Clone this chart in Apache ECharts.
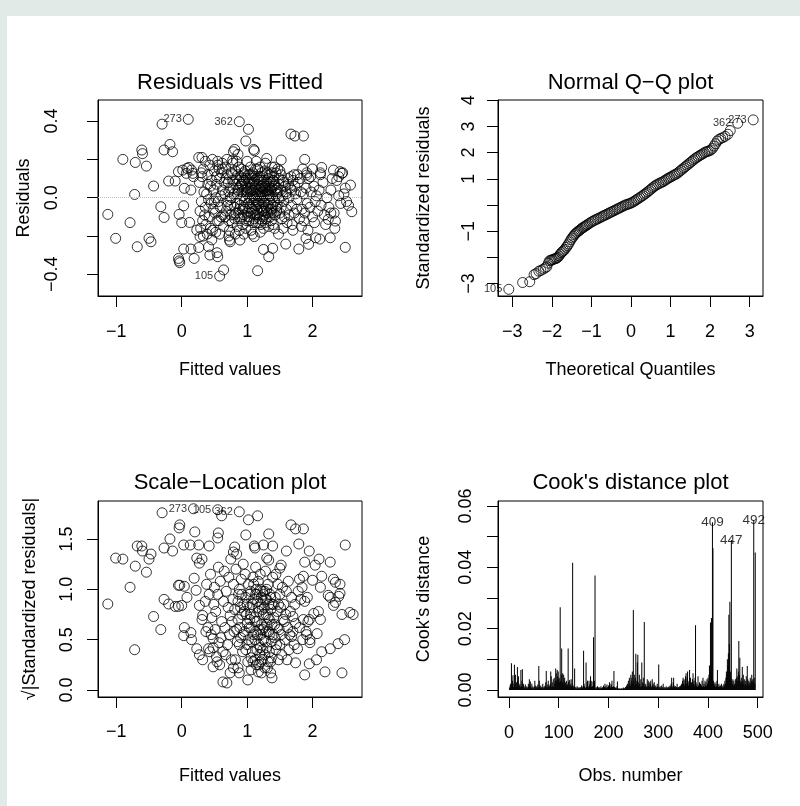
<!DOCTYPE html>
<html><head><meta charset="utf-8">
<script src="https://cdn.jsdelivr.net/npm/echarts@6/dist/echarts.min.js"></script>
<style>
html,body{margin:0;padding:0;width:800px;height:806px;background:#e1eae6;overflow:hidden}
#bg{position:absolute;left:7px;top:16px;right:0;bottom:0;background:#fff}
#chart{position:absolute;left:0;top:0;width:800px;height:806px}
</style></head><body><div id="bg"></div><div id="chart"></div>
<script>
// ---------- Panel 1: Residuals vs Fitted  [fitted, residual] ----------
const rvfSparse = [[-1.13,-0.087],[-1.01,-0.212],[-0.90,0.20],[-0.79,-0.13],[-0.72,0.017],[-0.71,0.184],[-0.68,-0.256],[-0.61,0.249],[-0.60,0.23],[-0.54,0.165],[-0.50,-0.212],[-0.47,-0.23],[-0.43,0.061],[-0.32,-0.047],[-0.30,0.384],[-0.27,-0.103],[-0.27,0.249],[-0.20,0.087],[-0.18,0.278],[-0.14,0.24],[-0.10,0.087],[-0.05,0.136],[-0.04,-0.087],[0.0,-0.13],[0.03,-0.042],[0.04,0.049],[0.015,0.144],[0.07,0.127],[0.08,0.153],[0.11,0.158],[0.14,0.04],[0.15,0.144],[0.17,0.127],[0.18,0.11],[0.12,-0.129],[0.03,-0.268],[-0.05,-0.317],[-0.04,-0.33],[-0.03,-0.339],[0.14,-0.268],[0.19,-0.317],[0.26,-0.26],[1.02,0.357],[0.98,0.296],[1.10,0.252],[1.11,0.245],[0.79,0.24],[0.81,0.252],[0.86,0.226],[0.78,0.197],[1.67,0.332],[1.73,0.322],[1.86,0.322],[1.88,0.20],[1.30,0.205],[1.52,0.197],[0.26,0.21],[0.31,0.21],[0.36,0.19],[0.55,0.19],[0.62,0.18],[0.64,-0.377],[1.16,-0.381],[1.25,-0.27],[1.33,-0.308],[1.39,-0.264],[1.59,-0.242],[1.79,-0.268],[1.94,-0.243],[2.05,-0.209],[2.11,-0.216],[2.27,-0.209],[2.50,-0.259],[2.60,-0.073],[2.58,0.066],[2.45,0.127],[2.42,0.136],[2.32,0.144],[2.40,0.11],[2.14,0.158],[2.12,0.13],[2.35,-0.122],[2.24,-0.113],[2.34,-0.16],[0.43,-0.299],[0.54,-0.287],[0.55,-0.308],[0.41,-0.256],[0.28,-0.203],[0.23,-0.169],[0.73,-0.221],[0.74,-0.23],[0.89,-0.221],[1.11,-0.203],[1.48,-0.19],[1.90,-0.212],[2.52,-0.02],[2.55,-0.04],[2.50,0.05],[1.91,0.118]];
const rvfCloud = [[0.27,0.08],[0.30,-0.02],[0.32,-0.12],[0.34,0.03],[0.28,-0.07],[0.33,0.15],[0.31,0.11],[0.29,-0.16],
[0.36,-0.05],[0.38,0.02],[0.40,0.12],[0.42,-0.10],[0.44,0.06],[0.37,-0.14],[0.41,-0.01],[0.43,0.17],[0.39,-0.19],[0.45,-0.03],
[0.46,0.09],[0.48,-0.06],[0.50,0.14],[0.52,0.00],[0.54,-0.12],[0.47,-0.17],[0.49,0.04],[0.53,0.07],[0.51,-0.08],[0.55,0.17],[0.46,-0.22],
[0.56,-0.02],[0.58,0.10],[0.60,-0.10],[0.62,0.04],[0.64,-0.15],[0.57,0.15],[0.59,-0.05],[0.61,0.13],[0.63,-0.09],[0.65,0.08],[0.60,0.01],[0.58,-0.19],
[0.66,0.02],[0.68,-0.07],[0.70,0.12],[0.72,-0.12],[0.74,0.05],[0.67,0.16],[0.69,-0.02],[0.71,0.08],[0.73,-0.17],[0.75,-0.04],[0.68,0.10],[0.72,-0.20],
[0.76,0.00],[0.78,0.09],[0.80,-0.09],[0.82,0.14],[0.84,-0.03],[0.77,-0.13],[0.79,0.05],[0.81,-0.05],[0.83,0.07],[0.85,-0.15],[0.78,0.18],[0.82,-0.19],[0.80,0.02],
[0.86,0.04],[0.88,-0.06],[0.90,0.11],[0.92,-0.10],[0.94,0.01],[0.87,0.16],[0.89,-0.01],[0.91,0.07],[0.93,-0.14],[0.95,0.13],[0.88,-0.17],[0.92,0.03],[0.90,-0.04],[0.94,0.09],
[0.96,-0.02],[0.98,0.06],[1.00,-0.08],[1.02,0.10],[1.04,0.00],[0.97,0.14],[0.99,-0.12],[1.01,0.03],[1.03,-0.05],[1.05,0.16],[0.98,-0.16],[1.02,0.12],[1.00,0.02],[1.04,-0.10],[0.96,0.09],
[1.06,0.05],[1.08,-0.03],[1.10,0.08],[1.12,-0.09],[1.14,0.02],[1.07,0.12],[1.09,-0.13],[1.11,0.00],[1.13,0.15],[1.15,-0.06],[1.06,-0.17],[1.10,0.04],[1.12,0.11],[1.14,-0.02],[1.08,0.07],[1.11,-0.11],
[1.16,0.01],[1.18,0.09],[1.20,-0.05],[1.22,0.13],[1.24,-0.10],[1.17,-0.02],[1.19,0.05],[1.21,-0.14],[1.23,0.03],[1.25,0.07],[1.16,0.15],[1.20,-0.18],[1.22,0.00],[1.18,-0.08],[1.24,0.11],[1.21,0.06],
[1.26,-0.03],[1.28,0.06],[1.30,-0.07],[1.32,0.10],[1.34,-0.01],[1.27,0.14],[1.29,-0.11],[1.31,0.02],[1.33,-0.15],[1.35,0.05],[1.28,0.18],[1.30,0.08],[1.32,-0.04],[1.26,0.03],[1.34,0.12],
[1.36,0.04],[1.38,-0.06],[1.40,0.09],[1.42,-0.02],[1.44,0.13],[1.37,-0.12],[1.39,0.00],[1.41,0.06],[1.43,-0.09],[1.45,0.02],[1.38,0.16],[1.42,-0.16],
[1.46,-0.04],[1.48,0.07],[1.50,-0.08],[1.52,0.12],[1.54,0.01],[1.47,0.15],[1.49,-0.01],[1.51,0.04],[1.53,-0.11],[1.55,0.09],[1.50,0.14],
[1.56,-0.02],[1.58,0.06],[1.60,-0.06],[1.62,0.10],[1.64,0.00],[1.57,-0.10],[1.59,0.03],[1.61,-0.13],[1.63,0.07],
[1.66,0.05],[1.68,-0.04],[1.70,0.09],[1.72,-0.08],[1.74,0.02],[1.67,0.11],[1.69,-0.14],[1.73,0.06],
[1.76,-0.01],[1.78,0.08],[1.80,-0.11],[1.82,0.03],[1.84,-0.06],[1.77,0.12],[1.81,0.10],[1.83,-0.15],
[1.86,0.02],[1.88,-0.08],[1.90,0.05],[1.92,-0.03],[1.94,0.10],[1.87,-0.12],[1.91,0.13],[1.93,-0.17],
[1.96,-0.05],[1.98,0.03],[2.00,-0.10],[2.02,0.06],[2.04,-0.02],[1.97,0.11],[2.03,-0.13],
[2.06,0.01],[2.08,-0.07],[2.10,0.04],[2.13,-0.04],[2.16,0.08],[2.18,-0.09],[2.12,0.12],
[2.22,0.00],[2.25,-0.05],[2.28,0.04],[2.30,0.10],[2.33,-0.08],[2.37,0.09],[2.40,0.01],[2.43,-0.03],[2.46,0.13],[2.48,0.02],
[0.72,0.03],[0.75,-0.09],[0.78,0.12],[0.81,-0.11],[0.84,0.10],[0.87,-0.08],[0.90,0.06],[0.93,-0.06],[0.96,0.04],[0.99,0.10],[1.01,-0.10],[1.03,0.08],[1.06,-0.08],[1.09,0.01],[1.12,-0.05],[1.15,0.10],[1.17,0.04],[1.19,-0.11],[1.21,0.09],[1.23,-0.07],[1.25,0.01],[1.27,-0.09],[1.29,0.12],[1.31,-0.01],[1.33,0.06],[1.35,-0.10],[1.37,0.08],[1.39,-0.04],[1.41,0.11],[1.43,0.04],[1.45,-0.07],[1.47,0.03],[1.49,0.10],[0.74,-0.01],[0.86,0.12],[0.95,-0.09],[1.05,0.12],[1.13,-0.13],[1.26,0.09],[1.36,-0.03],[1.18,0.02],[1.08,0.10],[0.98,0.00],[0.88,0.09],[1.28,-0.13],[1.38,0.13],[1.46,0.05]];
const rvfCore = [[1.00,0.05],[1.02,-0.03],[1.04,0.07],[1.06,-0.01],[1.08,0.04],[1.10,-0.07],[1.12,0.06],[1.14,-0.04],[1.16,0.07],[1.18,-0.03],[1.20,0.03],[1.22,-0.06],[1.24,0.05],[1.26,-0.07],[1.28,0.02],[1.30,0.04],[1.32,-0.08],[1.34,0.08],[1.36,-0.06],[1.38,0.05],[1.40,-0.08],[1.03,-0.12],[1.07,-0.06],[1.11,0.09],[1.15,-0.09],[1.19,0.11],[1.23,-0.12],[1.27,0.05],[1.31,0.13],[1.35,0.01],[1.39,0.09],[1.05,0.03],[1.09,0.13],[1.13,-0.01],[1.17,-0.13],[1.21,0.01],[1.25,-0.02],[1.29,-0.05],[1.33,0.02],[1.37,-0.08],[0.92,0.07],[0.94,-0.05],[0.96,0.12],[0.85,0.02],[0.83,-0.08],[0.87,0.05],[0.89,-0.11],[0.91,0.15],[0.97,-0.06],[0.99,0.04],[1.42,0.07],[1.44,-0.05],[1.48,0.00],[1.52,-0.05],[1.56,0.08],[1.60,0.02],[1.64,-0.09],[1.68,0.04],[1.72,0.12],[1.76,-0.06],[0.35,-0.09],[0.40,0.07],[0.44,-0.16],[0.50,-0.02],[0.53,0.11],[0.57,-0.12],[0.62,0.15],[0.66,-0.10],[0.70,-0.04],[0.76,0.13],[0.30,0.13],[0.33,-0.20],[0.47,0.20],[0.52,-0.18],[0.69,0.20],[0.84,0.19],[1.00,0.19],[1.14,0.19],[1.42,0.16],[1.20,0.16],[0.95,-0.19],[1.08,-0.19],[1.25,-0.16],[1.40,-0.14],[1.55,-0.16],[1.70,-0.17],[1.85,0.15],[2.00,0.15],[2.20,-0.14],[2.28,-0.08]];
const rvfIds = [[0.10,0.409,'273'],[0.88,0.397,'362'],[0.58,-0.409,'105']];

// ---------- Panel 2: Normal Q-Q  [theoretical, standardized residual] ----------
const qqPoints = [[-2.74,-2.96],[-2.56,-2.93],[-2.45,-2.66],[-2.40,-2.62],[-2.33,-2.53],[-2.28,-2.50],[-2.22,-2.45],[-2.17,-2.40],[-2.13,-2.36],[-2.09,-2.22],[-2.06,-2.13],[-2.03,-2.11],[-2.00,-2.10],[-1.97,-2.08],[-1.94,-2.06],[-1.91,-2.05],[-1.88,-2.03],[-1.85,-2.00],[-1.82,-1.94],[-1.79,-1.88],[-1.76,-1.82],[-1.73,-1.78],[-1.70,-1.74],[-1.67,-1.69],[-1.64,-1.62],[-1.61,-1.56],[-1.58,-1.49],[-1.55,-1.41],[-1.52,-1.33],[-1.49,-1.26],[-1.46,-1.20],[-1.43,-1.14],[-1.40,-1.09],[-1.37,-1.05],[-1.34,-1.01],[-1.31,-0.98],[-1.28,-0.94],[-1.25,-0.90],[-1.22,-0.87],[-1.19,-0.84],[-1.16,-0.81],[-1.13,-0.78],[-1.10,-0.75],[-1.06,-0.71],[-1.02,-0.67],[-0.98,-0.63],[-0.94,-0.60],[-0.90,-0.57],[-0.86,-0.54],[-0.82,-0.51],[-0.78,-0.48],[-0.74,-0.45],[-0.70,-0.42],[-0.66,-0.39],[-0.62,-0.36],[-0.58,-0.33],[-0.54,-0.30],[-0.50,-0.27],[-0.46,-0.24],[-0.42,-0.21],[-0.38,-0.18],[-0.34,-0.15],[-0.30,-0.12],[-0.26,-0.09],[-0.22,-0.06],[-0.18,-0.03],[-0.14,0.00],[-0.10,0.02],[-0.06,0.04],[-0.02,0.06],[0.02,0.09],[0.06,0.12],[0.10,0.16],[0.14,0.20],[0.18,0.24],[0.22,0.28],[0.26,0.32],[0.30,0.36],[0.34,0.41],[0.38,0.45],[0.42,0.50],[0.46,0.55],[0.50,0.60],[0.54,0.65],[0.58,0.70],[0.62,0.74],[0.66,0.78],[0.70,0.81],[0.74,0.84],[0.78,0.87],[0.82,0.90],[0.86,0.94],[0.90,0.98],[0.94,1.02],[0.98,1.05],[1.02,1.08],[1.06,1.12],[1.10,1.15],[1.14,1.18],[1.18,1.22],[1.22,1.27],[1.26,1.32],[1.30,1.37],[1.34,1.42],[1.38,1.47],[1.42,1.52],[1.46,1.57],[1.50,1.62],[1.54,1.67],[1.58,1.72],[1.62,1.77],[1.66,1.81],[1.70,1.85],[1.74,1.89],[1.78,1.92],[1.82,1.96],[1.86,2.00],[1.90,2.03],[1.94,2.05],[1.98,2.07],[2.02,2.10],[2.06,2.16],[2.10,2.25],[2.14,2.34],[2.18,2.44],[2.22,2.50],[2.27,2.54],[2.32,2.57],[2.38,2.62],[2.45,2.70],[2.51,2.84]];
const qqIds = [[-3.09,-3.22,'105'],[2.70,3.12,'362'],[3.09,3.25,'273']];

// ---------- Panel 3: Scale-Location  [fitted, sqrt|std resid|] ----------
const slSparse = [[-1.13,0.854],[-1.01,1.31],[-0.90,1.30],[-0.79,1.02],[-0.72,0.40],[-0.71,1.23],[-0.68,1.43],[-0.61,1.43],[-0.60,1.38],[-0.54,1.17],[-0.50,1.30],[-0.47,1.35],[-0.43,0.73],[-0.32,0.60],[-0.30,1.76],[-0.27,1.41],[-0.27,0.90],[-0.20,0.854],[-0.18,1.50],[-0.14,1.38],[-0.10,0.83],[-0.05,0.83],[-0.04,1.61],[-0.03,1.64],[0.0,0.84],[-0.05,1.04],[-0.03,1.04],[0.03,1.44],[0.04,1.03],[0.04,0.62],[0.03,0.54],[0.08,0.92],[0.13,1.44],[0.20,1.57],[0.26,1.44],[0.14,0.57],[0.15,0.50],[0.23,1.31],[0.27,1.26],[0.31,1.30],[0.19,1.11],[0.22,0.99],[0.27,0.84],[0.31,0.70],[0.32,0.74],[0.23,0.41],[0.27,0.35],[0.32,0.30],[0.42,1.43],[0.55,1.51],[0.56,1.56],[0.61,1.73],[1.02,1.69],[1.16,1.73],[0.98,1.54],[0.81,1.42],[0.79,1.37],[1.11,1.43],[1.12,1.41],[1.25,1.44],[1.33,1.55],[1.39,1.43],[1.30,1.31],[1.33,1.29],[1.60,1.38],[1.67,1.64],[1.74,1.60],[1.86,1.60],[1.79,1.45],[1.95,1.38],[2.10,1.30],[2.27,1.27],[2.50,1.44],[1.52,1.24],[1.50,1.21],[1.88,1.27],[2.04,1.24],[1.86,1.13],[2.00,1.09],[2.14,1.13],[2.12,1.02],[2.32,1.10],[2.35,1.07],[2.42,1.05],[2.24,0.94],[2.27,0.92],[2.40,0.93],[2.42,0.96],[2.32,0.84],[2.35,0.87],[2.45,0.75],[2.57,0.77],[2.62,0.75],[2.02,0.76],[2.09,0.78],[2.12,0.70],[1.95,0.70],[1.96,0.50],[2.07,0.56],[2.06,0.30],[2.14,0.38],[2.27,0.41],[2.39,0.46],[2.49,0.50],[2.19,0.18],[2.45,0.17],[1.88,0.15],[1.95,0.26],[1.74,0.27],[1.91,0.55],[1.96,0.47],[1.74,0.66],[1.70,0.73],[1.68,0.53],[1.77,0.41],[1.01,0.10],[0.69,0.07],[0.63,0.08],[0.74,0.17],[0.79,0.22],[0.88,0.17],[1.38,0.12],[1.36,0.17],[1.22,0.17],[0.48,0.23],[0.54,0.28],[0.41,0.41],[0.43,0.38],[0.48,0.51]];
const slCloud = [[0.36,0.88],[0.38,1.05],[0.40,0.62],[0.42,0.95],[0.44,1.15],[0.46,0.72],[0.48,0.42],[0.50,1.02],[0.37,0.58],[0.45,0.55],[0.49,0.85],
[0.51,0.60],[0.53,0.33],[0.55,0.95],[0.57,0.47],[0.59,1.08],[0.61,0.68],[0.63,0.38],[0.65,1.18],[0.52,0.78],[0.56,1.22],[0.60,0.52],[0.64,0.88],[0.58,0.25],
[0.66,0.62],[0.68,0.98],[0.70,0.45],[0.72,1.12],[0.74,0.74],[0.76,0.30],[0.78,0.90],[0.80,0.58],[0.67,0.35],[0.71,0.82],[0.75,1.30],[0.79,1.05],[0.73,0.55],[0.77,0.68],
[0.81,0.80],[0.83,1.20],[0.85,0.48],[0.87,0.95],[0.89,0.62],[0.91,1.10],[0.93,0.38],[0.95,0.85],[0.82,0.30],[0.84,1.35],[0.86,0.70],[0.88,1.00],[0.90,0.52],[0.92,0.75],[0.94,1.25],[0.86,0.22],
[0.96,0.58],[0.98,0.92],[1.00,0.45],[1.02,1.05],[1.04,0.70],[1.06,0.32],[1.08,0.85],[1.10,0.55],[0.97,1.15],[0.99,0.75],[1.01,0.28],[1.03,0.62],[1.05,0.98],[1.07,0.48],[1.09,1.12],[0.98,0.40],[1.04,0.82],[1.00,0.66],[1.06,0.20],
[1.11,0.72],[1.13,0.95],[1.15,0.40],[1.17,1.08],[1.19,0.60],[1.21,0.85],[1.23,0.30],[1.25,0.75],[1.12,0.50],[1.14,0.25],[1.16,0.88],[1.18,0.45],[1.20,1.15],[1.22,0.65],[1.24,0.98],[1.13,1.22],[1.15,0.68],[1.19,0.35],[1.21,0.55],[1.23,0.80],[1.17,0.18],[1.25,0.50],
[1.26,0.62],[1.28,0.90],[1.30,0.42],[1.32,1.05],[1.34,0.70],[1.36,0.28],[1.38,0.85],[1.40,0.55],[1.27,0.35],[1.29,0.75],[1.31,0.22],[1.33,0.58],[1.35,0.95],[1.37,0.48],[1.39,1.12],[1.28,1.18],[1.30,0.65],[1.34,0.38],[1.27,0.98],[1.36,0.80],
[1.41,0.72],[1.43,0.92],[1.45,0.45],[1.47,1.05],[1.49,0.60],[1.51,0.82],[1.53,0.35],[1.55,0.70],[1.42,0.52],[1.44,1.15],[1.46,0.78],[1.48,0.30],[1.50,0.95],[1.52,0.55],[1.54,1.02],[1.46,0.62],
[1.56,0.85],[1.58,0.50],[1.60,0.98],[1.62,0.62],[1.64,0.40],[1.66,0.78],[1.68,0.92],[1.70,0.58],[1.72,0.45],[1.57,0.68],[1.61,0.30],[1.63,1.08],[1.65,0.55],[1.59,0.75],[1.73,0.85],
[1.78,0.98],[1.80,0.62],[1.82,0.90],[1.84,1.02],[1.86,0.70],[1.88,0.88],[1.90,0.58],[1.92,0.92],[1.80,1.10],[1.85,0.50],[1.93,0.68]];
const slCore = [[1.00,0.85],[1.02,0.50],[1.04,0.95],[1.06,0.62],[1.08,0.38],[1.10,0.90],[1.12,0.68],[1.14,1.00],[1.16,0.55],[1.18,0.78],[1.20,0.42],[1.22,0.92],[1.24,0.60],[1.26,0.82],[1.28,0.48],[1.30,1.00],[1.32,0.72],[1.34,0.55],[1.36,0.92],[1.38,0.65],[1.40,0.85],[1.05,0.75],[1.09,0.28],[1.13,0.58],[1.17,0.82],[1.21,0.28],[1.25,0.95],[1.29,0.58],[1.33,0.85],[1.37,0.32],[0.92,0.95],[0.94,0.55],[0.96,0.78],[0.88,0.45],[0.90,0.82],[0.84,0.60],[0.86,0.88],[1.42,0.65],[1.44,0.40],[1.48,0.85],[1.50,0.45],[1.12,0.30],[1.18,0.25],[1.27,0.22],[1.32,0.28],[1.24,0.40],[1.15,0.95],[1.10,1.05],[1.20,1.00],[1.30,0.90]];
const slIds = [[0.18,1.80,'273'],[0.55,1.79,'105'],[0.88,1.77,'362']];

// ---------- Panel 4: Cook's distance, observations 1..495 ----------
const cookD = [
0.0006,0.0012,0.0020,0.0009,0.0087,0.0015,0.0030,0.0048,0.0010,0.0022,
0.0082,0.0018,0.0050,0.0009,0.0025,0.0012,0.0075,0.0030,0.0045,0.0008,
0.0015,0.0020,0.0010,0.0065,0.0012,0.0030,0.0068,0.0009,0.0020,0.0014,
0.0006,0.0010,0.0018,0.0004,0.0008,0.0012,0.0005,0.0009,0.0020,0.0011,
0.0035,0.0015,0.0028,0.0010,0.0007,0.0020,0.0006,0.0012,0.0004,0.0008,
0.0010,0.0030,0.0015,0.0005,0.0009,0.0012,0.0006,0.0018,0.0010,0.0078,
0.0030,0.0012,0.0008,0.0015,0.0005,0.0010,0.0007,0.0020,0.0004,0.0009,
0.0012,0.0006,0.0015,0.0025,0.0062,0.0010,0.0008,0.0018,0.0030,0.0012,
0.0009,0.0015,0.0020,0.0060,0.0045,0.0010,0.0025,0.0012,0.0035,0.0010,
0.0040,0.0020,0.0030,0.0070,0.0055,0.0030,0.0065,0.0045,0.0060,0.0035,
0.0040,0.0025,0.0270,0.0030,0.0050,0.0135,0.0025,0.0055,0.0020,0.0050,
0.0030,0.0040,0.0018,0.0025,0.0012,0.0030,0.0020,0.0015,0.0135,0.0028,
0.0010,0.0033,0.0020,0.0015,0.0035,0.0012,0.0020,0.0415,0.0015,0.0008,
0.0012,0.0070,0.0010,0.0005,0.0008,0.0004,0.0012,0.0006,0.0009,0.0005,
0.0007,0.0004,0.0010,0.0006,0.0008,0.0015,0.0010,0.0006,0.0012,0.0128,
0.0020,0.0012,0.0008,0.0006,0.0090,0.0010,0.0025,0.0030,0.0012,0.0008,
0.0030,0.0015,0.0020,0.0045,0.0030,0.0010,0.0028,0.0012,0.0008,0.0172,
0.0015,0.0030,0.0373,0.0006,0.0010,0.0004,0.0008,0.0012,0.0005,0.0007,
0.0010,0.0004,0.0008,0.0005,0.0012,0.0006,0.0004,0.0009,0.0005,0.0015,
0.0006,0.0010,0.0020,0.0008,0.0012,0.0005,0.0018,0.0009,0.0006,0.0015,
0.0010,0.0025,0.0012,0.0008,0.0020,0.0015,0.0030,0.0010,0.0008,0.0012,
0.0062,0.0010,0.0005,0.0008,0.0004,0.0006,0.0012,0.0028,0.0005,0.0004,
0.0006,0.0003,0.0005,0.0004,0.0002,0.0006,0.0004,0.0005,0.0003,0.0008,
0.0004,0.0006,0.0005,0.0010,0.0008,0.0015,0.0012,0.0020,0.0015,0.0030,
0.0010,0.0040,0.0020,0.0015,0.0050,0.0030,0.0040,0.0060,0.0020,0.0261,
0.0030,0.0050,0.0015,0.0040,0.0118,0.0020,0.0030,0.0090,0.0115,0.0025,
0.0015,0.0050,0.0020,0.0010,0.0035,0.0012,0.0090,0.0025,0.0015,0.0040,
0.0020,0.0222,0.0010,0.0015,0.0020,0.0008,0.0012,0.0035,0.0010,0.0030,
0.0015,0.0025,0.0010,0.0020,0.0030,0.0012,0.0008,0.0035,0.0015,0.0020,
0.0010,0.0025,0.0012,0.0008,0.0015,0.0006,0.0010,0.0020,0.0012,0.0008,
0.0083,0.0010,0.0006,0.0012,0.0005,0.0008,0.0015,0.0010,0.0004,0.0020,
0.0006,0.0010,0.0005,0.0008,0.0004,0.0012,0.0006,0.0009,0.0005,0.0010,
0.0008,0.0012,0.0006,0.0015,0.0010,0.0020,0.0040,0.0012,0.0008,0.0025,
0.0040,0.0015,0.0010,0.0008,0.0012,0.0006,0.0010,0.0020,0.0008,0.0005,
0.0010,0.0006,0.0012,0.0008,0.0015,0.0010,0.0020,0.0012,0.0030,0.0040,
0.0020,0.0035,0.0015,0.0030,0.0045,0.0055,0.0020,0.0040,0.0060,0.0025,
0.0015,0.0030,0.0065,0.0020,0.0040,0.0012,0.0025,0.0010,0.0035,0.0055,
0.0020,0.0030,0.0015,0.0040,0.0211,0.0025,0.0012,0.0020,0.0010,0.0045,
0.0015,0.0010,0.0025,0.0012,0.0020,0.0008,0.0015,0.0030,0.0010,0.0040,
0.0012,0.0020,0.0010,0.0030,0.0015,0.0025,0.0012,0.0035,0.0020,0.0040,
0.0030,0.0050,0.0080,0.0045,0.0220,0.0060,0.0235,0.0040,0.0547,0.0462,
0.0030,0.0020,0.0015,0.0025,0.0010,0.0020,0.0012,0.0030,0.0065,0.0015,
0.0010,0.0020,0.0012,0.0008,0.0015,0.0010,0.0020,0.0012,0.0008,0.0015,
0.0010,0.0020,0.0015,0.0030,0.0020,0.0040,0.0060,0.0050,0.0100,0.0080,
0.0120,0.0245,0.0150,0.0288,0.0060,0.0040,0.0489,0.0030,0.0020,0.0035,
0.0015,0.0030,0.0020,0.0012,0.0035,0.0020,0.0040,0.0070,0.0030,0.0045,
0.0060,0.0160,0.0050,0.0105,0.0030,0.0020,0.0040,0.0025,0.0075,0.0030,
0.0050,0.0020,0.0035,0.0015,0.0030,0.0020,0.0045,0.0012,0.0078,0.0035,
0.0020,0.0030,0.0015,0.0025,0.0040,0.0020,0.0030,0.0050,0.0025,0.0035,
0.0030,0.0554,0.0040,0.0020,0.0448];
const cookIds = [409, 447, 492];

// ---------- tick values ----------
const fittedTicks = [-1, 0, 1, 2];
const residTicks = [-0.4, -0.2, 0, 0.2, 0.4];
const residLabels = [-0.4, 0, 0.4];
const qqXTicks = [-3, -2, -1, 0, 1, 2, 3];
const qqYTicks = [-3, -2, -1, 0, 1, 2, 3, 4];
const qqYLabels = [-3, -1, 1, 2, 3, 4];
const slTicks = [0, 0.5, 1.0, 1.5];
const obsTicks = [0, 100, 200, 300, 400, 500];
const cookTicks = [0, 0.01, 0.02, 0.03, 0.04, 0.05, 0.06];
const cookLabels = [0, 0.02, 0.04, 0.06];

const titles = ['Residuals vs Fitted', 'Normal Q\u2212Q plot', 'Scale\u2212Location plot', "Cook's distance plot"];

const FONT = '"Liberation Sans", Arial, Helvetica, sans-serif';
const fmt = d => v => { let s = Number(v).toFixed(d); if (Math.abs(v) < 1e-12) s = (0).toFixed(d); return s.replace('-', '\u2212'); };

const grids = [
  {left: 98, top: 100, width: 264, height: 196},
  {left: 498, top: 100, width: 265, height: 196},
  {left: 98, top: 501, width: 264, height: 196},
  {left: 498, top: 501, width: 265, height: 196}
].map(g => Object.assign(g, {show: true, borderColor: '#000', borderWidth: 1, backgroundColor: 'transparent', containLabel: false}));

function axis(gi, min, max, ticks, labels, f, name, nameGap, margin, isY) {
  const a = {
    type: 'value', gridIndex: gi, min: min, max: max, scale: true,
    name: name, nameLocation: 'middle', nameGap: nameGap,
    nameTextStyle: {fontSize: 18, fontFamily: FONT, color: '#000'},
    axisLine: {show: true, onZero: false, lineStyle: {color: '#000', width: 1}},
    splitLine: {show: false},
    axisTick: {show: true, length: 11, lineStyle: {color: '#000', width: 1}, customValues: ticks},
    axisLabel: {show: true, customValues: labels, formatter: f, margin: margin, fontSize: 18, fontFamily: FONT, color: '#000'}
  };
  if (isY) {
    a.nameRotate = 90;
    a.axisLabel.rotate = 90;
  }
  return a;
}

const xAxes = [
  axis(0, -1.28, 2.756, fittedTicks, fittedTicks, fmt(0), 'Fitted values', 65, 27, false),
  axis(1, -3.363, 3.338, qqXTicks, qqXTicks, fmt(0), 'Theoretical Quantiles', 65, 27, false),
  axis(2, -1.28, 2.756, fittedTicks, fittedTicks, fmt(0), 'Fitted values', 70, 26, false),
  axis(3, -22, 510.6, obsTicks, obsTicks, fmt(0), 'Obs. number', 70, 27, false)
];
const yAxes = [
  axis(0, -0.513, 0.51, residTicks, residLabels, fmt(1), 'Residuals', 65, 37, true),
  axis(1, -3.475, 4.009, qqYTicks, qqYLabels, fmt(0), 'Standardized residuals', 65, 20, true),
  axis(2, -0.0695, 1.877, slTicks, slTicks, fmt(1), '\u221A|Standardized residuals|', 59, 22, true),
  axis(3, -0.00228, 0.06163, cookTicks, cookLabels, fmt(2), "Cook's distance", 65, 23, true)
];

const circle = {color: 'rgba(0,0,0,0)', borderColor: '#000', borderWidth: 1};
function scat(i, data, extra) {
  return Object.assign({type: 'scatter', xAxisIndex: i, yAxisIndex: i, data: data, symbol: 'circle', symbolSize: 10,
    itemStyle: circle, silent: true, animation: false}, extra || {});
}
function idScat(i, data, fs) {
  return scat(i, data, {label: {show: true, position: 'left', distance: 1, formatter: p => p.data[2], fontSize: fs, fontFamily: FONT, color: '#000'}});
}

const series = [
  scat(0, rvfSparse.concat(rvfCloud, rvfCore), {markLine: {silent: true, symbol: 'none', label: {show: false}, lineStyle: {color: '#bebebe', type: 'dotted', width: 1}, data: [{yAxis: 0}], animation: false}}),
  idScat(0, rvfIds, 11),
  scat(1, qqPoints),
  idScat(1, qqIds, 11),
  scat(2, slSparse.concat(slCloud, slCore)),
  idScat(2, slIds, 11),
  {type: 'bar', xAxisIndex: 3, yAxisIndex: 3, barWidth: 1, itemStyle: {color: '#000'}, silent: true, animation: false,
   data: cookD.map((d, i) => [i + 1, d])},
  {type: 'scatter', xAxisIndex: 3, yAxisIndex: 3, symbolSize: 0, silent: true, animation: false,
   data: cookIds.map(o => [o, cookD[o - 1], String(o)]),
   label: {show: true, position: 'top', distance: 0, offset: [0, 7], formatter: p => p.data[2], fontSize: 13.5, fontFamily: FONT, color: '#000'}}
];

const titlePos = [[230, 83], [630.5, 83], [230, 483], [630.5, 483]];
const graphic = titles.map((t, i) => ({type: 'text', x: titlePos[i][0], y: titlePos[i][1], silent: true,
  style: {text: t, fontSize: 22, fontFamily: FONT, fill: '#000', align: 'center', verticalAlign: 'middle'}}));

const chart = echarts.init(document.getElementById('chart'), null, {renderer: 'canvas'});
chart.setOption({
  animation: false,
  backgroundColor: 'transparent',
  textStyle: {fontFamily: FONT},
  grid: grids, xAxis: xAxes, yAxis: yAxes, series: series, graphic: graphic
});
</script></body></html>
